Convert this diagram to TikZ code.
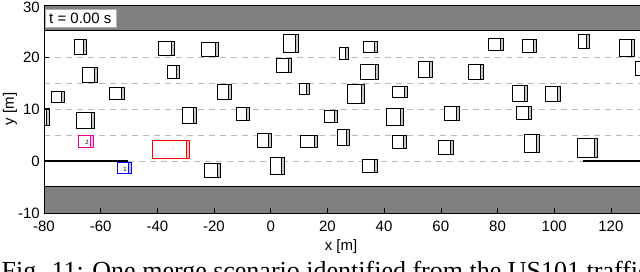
\documentclass[tikz,border=0pt]{standalone}
\usepackage{fontspec}
\setmainfont{Liberation Serif}
\setsansfont{Liberation Sans}
\definecolor{roadgray}{RGB}{128,128,128}
\definecolor{lanegray}{RGB}{185,185,185}
\newcommand{\vehbox}[5][black]{%
  \fill[white] (#2,#3) rectangle (#4,#5);
  \fill[#1!22] ({#4-3},#3) rectangle (#4,#5);
  \draw[#1, vehline] (#2,#3) rectangle (#4,#5);
  \draw[#1, vehline] ({#4-3},#3) -- ({#4-3},#5);
}
\tikzset{
  vehline/.style={line width=1pt},
  lanedash/.style={lanegray, line width=0.8pt, dash pattern=on 6pt off 5pt},
  ticklab/.style={font=\sffamily\fontsize{15}{16}\selectfont, inner sep=0pt},
  smalllab/.style={font=\sffamily\fontsize{6}{6}\selectfont, inner sep=0pt},
}
\begin{document}
\begin{tikzpicture}[x=1pt, y=-1pt]
\useasboundingbox (0,0) rectangle (640,272);
\clip (0,0) rectangle (640,272);
% road shoulders
\fill[roadgray] (44,5) rectangle (640,31);
\fill[roadgray] (44,187) rectangle (640,213);
\draw[line width=1pt] (44,31) -- (640,31);
\draw[line width=1pt] (44,187) -- (640,187);
% lane markings
\foreach \yy in {57,83,109,135} {\draw[lanedash] (44,\yy) -- (640,\yy);}
\draw[lanedash] (128,161) -- (583,161);
\draw[line width=1.2pt] (44,161) -- (128,161);
\draw[line width=1.2pt] (583,161) -- (640,161);
% vehicles
\begin{scope}
\clip (44,5) rectangle (640,213);
\vehbox{74}{40}{86}{55}
\vehbox{158}{42}{174}{56}
\vehbox{201}{43}{218}{57}
\vehbox{283}{35}{298}{53}
\vehbox{339}{48}{348}{60}
\vehbox{363}{42}{377}{53}
\vehbox{488}{39}{503}{51}
\vehbox{522}{40}{536}{53}
\vehbox{578}{35}{589}{49}
\vehbox{619}{40}{634}{57}
\vehbox{82}{68}{97}{83}
\vehbox{167}{66}{179}{79}
\vehbox{276}{59}{291}{73}
\vehbox{360}{65}{378}{80}
\vehbox{418}{62}{432}{78}
\vehbox{468}{65}{483}{80}
\vehbox{635}{62}{649}{76}
\vehbox{51}{92}{64}{103}
\vehbox{109}{88}{124}{100}
\vehbox{217}{85}{231}{100}
\vehbox{299}{84}{309}{95}
\vehbox{347}{85}{364}{104}
\vehbox{392}{87}{407}{98}
\vehbox{512}{86}{527}{102}
\vehbox{545}{87}{560}{102}
\vehbox{36}{109}{49}{126}
\vehbox{76}{113}{94}{129}
\vehbox{182}{108}{196}{124}
\vehbox{236}{108}{249}{121}
\vehbox{324}{111}{337}{123}
\vehbox{386}{109}{403}{126}
\vehbox{444}{107}{459}{121}
\vehbox{516}{107}{531}{120}
\vehbox{257}{134}{271}{148}
\vehbox{300}{136}{317}{148}
\vehbox{337}{130}{349}{146}
\vehbox{392}{136}{406}{149}
\vehbox{438}{141}{453}{155}
\vehbox{524}{135}{539}{153}
\vehbox{577}{139}{597}{158}
\vehbox{204}{164}{220}{178}
\vehbox{270}{158}{284}{175}
\vehbox{362}{160}{377}{173}
% highlighted vehicles
\vehbox[magenta]{78}{136}{93}{148}
\node[smalllab] (lab2) at (87,142) {2};
\vehbox[red]{152}{141}{189}{159}
\fill[gray] (173,149) circle (0.5);
\vehbox[blue]{117}{163}{131}{174}
\node[smalllab] (lab1) at (125,169) {1};
\end{scope}
% axes
\draw[line width=0.6pt] (44,5) -- (44,213) -- (640,213);
\draw[line width=0.6pt] (44,5) -- (640,5);
\foreach \yy/\lab/\ly in {5/30/7.5,57/20/57,109/10/109,161/0/161,213/-10/213} {
  \draw[line width=0.6pt] (44,\yy) -- (49,\yy);
  \node[ticklab, anchor=east] (yl\lab) at (40,\ly) {\lab};
}
\foreach \xx/\lab in {44/-80,100.7/-60,157.4/-40,214/-20,270.7/0,327.4/20,384/40,440.8/60,497.5/80,554.2/100,610.9/120} {
  \draw[line width=0.6pt] (\xx,213) -- (\xx,208);
  \node[ticklab] (xl\lab) at (\xx,226) {\lab};
}
\node[ticklab] (xlabel) at (341,247) {x [m]};
\node[ticklab, rotate=90] (ylabel) at (10,109) {y [m]};
% time box
\node[draw=gray!60, fill=white, line width=0.5pt, minimum width=71pt, minimum height=18pt, inner sep=0pt, anchor=north west] (tbox) at (45,9) {};
\node[ticklab, anchor=west] (ttext) at (49,18) {t = 0.00 s};
% caption (cut off at the lower edge, as in the reference)
\node[anchor=base west, inner sep=0pt, font=\fontsize{26}{28}\selectfont] (caption) at (1.5,280) {Fig. 11: One merge scenario identified from the US101 traffic};
\end{tikzpicture}
\end{document}
